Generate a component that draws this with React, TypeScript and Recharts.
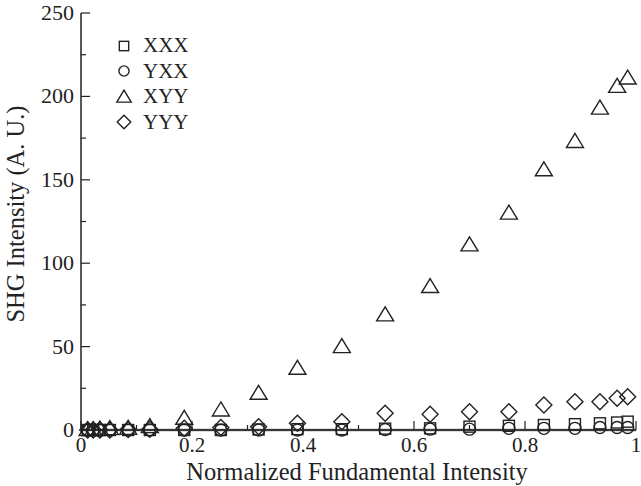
import {
  ScatterChart,
  Scatter,
  XAxis,
  YAxis,
  Legend,
  ReferenceLine,
} from "recharts";

const xValues = [
  0.012, 0.022, 0.034, 0.052, 0.085, 0.124, 0.186, 0.252, 0.32, 0.39, 0.47,
  0.548, 0.629, 0.7, 0.771, 0.834, 0.89, 0.935, 0.966, 0.985,
];
const xxxValues = [0, 0, 0, 0, 0, 0, 0, 0, 0.3, 0.5, 0.5, 0.8, 1, 2, 2.5, 3, 3.5, 4, 4.5, 5];
const yxxValues = [0, 0, 0, 0, 0, 0, 0, 0, 0, 0, 0, 0.3, 0.5, 0.5, 1, 1, 1, 1.5, 1.5, 1.5];
const xyyValues = [0.2, 0.3, 0.5, 0.8, 1, 2, 7, 12, 22, 37, 50, 69, 86, 111, 130, 156, 173, 193, 206, 211];
const yyyValues = [0, 0, 0, 0, 0.3, 0.5, 1, 1.5, 2, 4, 5, 10, 9.5, 11, 11, 15, 17, 17, 19, 20];

const xTicks = [0, 0.1, 0.2, 0.3, 0.4, 0.5, 0.6, 0.7, 0.8, 0.9, 1];
const yTicks = [0, 25, 50, 75, 100, 125, 150, 175, 200, 225, 250];

const INK = "#222";
const FONT = "'Liberation Serif', 'Times New Roman', serif";

const toPoints = (ys: number[]) => xValues.map((x, i) => ({ x, y: ys[i] }));

/* ------------------------------------------------------------------ */
/*  Marker shapes                                                       */
/* ------------------------------------------------------------------ */

type Kind = "square" | "circle" | "triangle" | "diamond";

function Marker({ kind, cx, cy, k = 1 }: { kind: Kind; cx: number; cy: number; k?: number }) {
  const common = { fill: "none", stroke: INK, strokeWidth: 1.4 };
  if (kind === "square")
    return <rect x={cx - 5.5 * k} y={cy - 5.5 * k} width={11 * k} height={11 * k} {...common} />;
  if (kind === "circle") return <circle cx={cx} cy={cy} r={6 * k} {...common} />;
  if (kind === "triangle")
    return (
      <path
        d={`M${cx},${cy - 8 * k} L${cx + 8.5 * k},${cy + 6 * k} L${cx - 8.5 * k},${cy + 6 * k} Z`}
        {...common}
      />
    );
  return (
    <path
      d={`M${cx},${cy - 8 * k} L${cx + 8 * k},${cy} L${cx},${cy + 8 * k} L${cx - 8 * k},${cy} Z`}
      {...common}
    />
  );
}

const shapeOf = (kind: Kind) => (p: any) => <Marker kind={kind} cx={p.cx} cy={p.cy} />;

const series: { name: string; kind: Kind; values: number[] }[] = [
  { name: "XXX", kind: "square", values: xxxValues },
  { name: "YXX", kind: "circle", values: yxxValues },
  { name: "XYY", kind: "triangle", values: xyyValues },
  { name: "YYY", kind: "diamond", values: yyyValues },
];

/* ------------------------------------------------------------------ */
/*  Ticks (inward, major + minor)                                       */
/* ------------------------------------------------------------------ */

const isMajorX = (v: number) => Math.round(v * 10) % 2 === 0;
const isMajorY = (v: number) => Math.round(v) % 50 === 0;
const fmtX = (v: number) => (v === 0 ? "0" : v === 1 ? "1" : v.toFixed(1));

function BottomTick({ x, y, payload }: any) {
  const major = isMajorX(payload.value);
  return (
    <g>
      <line x1={x} x2={x} y1={y} y2={y - (major ? 9 : 5)} stroke={INK} strokeWidth={1.2} />
      {major && (
        <text x={x} y={y + 22} textAnchor="middle" fontSize={21} fill={INK} fontFamily={FONT}>
          {fmtX(payload.value)}
        </text>
      )}
    </g>
  );
}

function TopTick({ x, y, payload }: any) {
  const major = isMajorX(payload.value);
  return <line x1={x} x2={x} y1={y} y2={y + (major ? 9 : 5)} stroke={INK} strokeWidth={1.2} />;
}

function LeftTick({ x, y, payload }: any) {
  const major = isMajorY(payload.value);
  return (
    <g>
      <line x1={x} x2={x + (major ? 9 : 5)} y1={y} y2={y} stroke={INK} strokeWidth={1.2} />
      {major && (
        <text x={x - 7} y={y + 7} textAnchor="end" fontSize={22} fill={INK} fontFamily={FONT}>
          {payload.value}
        </text>
      )}
    </g>
  );
}

function RightTick({ x, y, payload }: any) {
  const major = isMajorY(payload.value);
  return <line x1={x} x2={x - (major ? 9 : 5)} y1={y} y2={y} stroke={INK} strokeWidth={1.2} />;
}

/* ------------------------------------------------------------------ */
/*  Legend                                                              */
/* ------------------------------------------------------------------ */

function LegendBox() {
  return (
    <div style={{ fontFamily: FONT, fontSize: 21, color: INK, lineHeight: "25.5px" }}>
      {series.map((s) => (
        <div key={s.name} style={{ display: "flex", alignItems: "center" }}>
          <svg width={20} height={22} style={{ marginRight: 9 }}>
            <Marker kind={s.kind} cx={10} cy={11} k={0.85} />
          </svg>
          <span>{s.name}</span>
        </div>
      ))}
    </div>
  );
}

export default function App() {
  return (
    <div style={{ position: "absolute", left: 0, top: 0, background: "#fff" }}>
      <ScatterChart width={641} height={486} margin={{ top: 13, right: 5, bottom: 0, left: 0 }}>
        <XAxis
          type="number"
          dataKey="x"
          domain={[0, 1]}
          ticks={xTicks}
          interval={0}
          tickSize={0}
          tickMargin={0}
          height={56}
          tick={<BottomTick />}
          tickLine={false}
          axisLine={{ stroke: INK, strokeWidth: 1.5 }}
          label={() => (
            <text x={357} y={480} textAnchor="middle" fontSize={24.5} fill={INK} fontFamily={FONT}>
              Normalized Fundamental Intensity
            </text>
          )}
        />
        <XAxis
          xAxisId="top"
          orientation="top"
          type="number"
          domain={[0, 1]}
          ticks={xTicks}
          interval={0}
          tickSize={0}
          tickMargin={0}
          height={0}
          tick={<TopTick />}
          tickLine={false}
          axisLine={{ stroke: INK, strokeWidth: 1.5 }}
        />
        <YAxis
          type="number"
          dataKey="y"
          domain={[0, 250]}
          ticks={yTicks}
          interval={0}
          tickSize={0}
          tickMargin={0}
          width={81}
          tick={<LeftTick />}
          tickLine={false}
          axisLine={{ stroke: INK, strokeWidth: 1.5 }}
          label={() => (
            <text
              transform="rotate(-90)"
              x={-214}
              y={24}
              textAnchor="middle"
              fontSize={24.5}
              fill={INK}
              fontFamily={FONT}
            >
              SHG Intensity (A. U.)
            </text>
          )}
        />
        <YAxis
          yAxisId="right"
          orientation="right"
          type="number"
          domain={[0, 250]}
          ticks={yTicks}
          interval={0}
          tickSize={0}
          tickMargin={0}
          width={0}
          tick={<RightTick />}
          tickLine={false}
          axisLine={{ stroke: INK, strokeWidth: 1.5 }}
        />
        <ReferenceLine y={0} stroke="#777" strokeWidth={2.5} />
        <Legend
          layout="vertical"
          align="center"
          verticalAlign="middle"
          wrapperStyle={{ left: 114, top: 33, width: "auto" }}
          content={() => <LegendBox />}
        />
        {series.map((s) => (
          <Scatter
            key={s.name}
            name={s.name}
            data={toPoints(s.values)}
            shape={shapeOf(s.kind)}
            isAnimationActive={false}
          />
        ))}
      </ScatterChart>
    </div>
  );
}
